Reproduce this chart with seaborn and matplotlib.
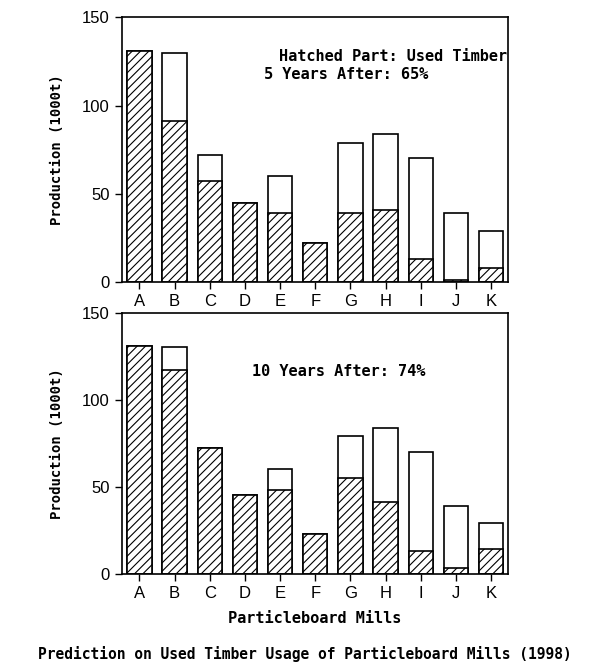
import numpy as np
import pandas as pd
import seaborn as sns
import matplotlib
matplotlib.use("Agg")
import matplotlib.pyplot as plt

# Datos (1000 t)
mills = ["A", "B", "C", "D", "E", "F", "G", "H", "I", "J", "K"]
total = [131, 130, 72, 45, 60, 22, 79, 84, 70, 39, 29]
used_5y = [131, 91, 57, 45, 39, 22, 39, 41, 13, 1, 8]
total_10 = [131, 130, 72, 45, 60, 23, 79, 84, 70, 39, 29]
used_10y = [131, 117, 72, 45, 48, 23, 55, 41, 13, 3, 14]
y_ticks = [0, 50, 100, 150]

sns.set_style("ticks")
plt.rcParams["hatch.linewidth"] = 0.8
plt.rcParams["text.color"] = "black"
plt.rcParams["axes.labelcolor"] = "black"
mono = "DejaVu Sans Mono"
sans = "Liberation Sans"

fig = plt.figure(figsize=(6.09, 6.71), dpi=100)
ax1 = fig.add_axes([0.200, 0.580, 0.634, 0.394])
ax2 = fig.add_axes([0.200, 0.145, 0.634, 0.389])


def draw_panel(ax, tot, used):
    df = pd.DataFrame({"mill": mills, "total": tot, "used": used})
    sns.barplot(data=df, x="mill", y="total", color="white", saturation=1,
                edgecolor="black", linewidth=1.2, width=0.69, ax=ax, errorbar=None)
    sns.barplot(data=df, x="mill", y="used", color="white", saturation=1,
                edgecolor="black", linewidth=1.2, width=0.69, hatch="////",
                ax=ax, errorbar=None)
    ax.set_xlim(-0.5, 10.48)
    ax.set_ylim(0, 150)
    ax.set_yticks(y_ticks)
    for s in ax.spines.values():
        s.set_visible(True)
        s.set_linewidth(1.2)
        s.set_color("black")
    ax.tick_params(direction="out", length=5, width=1.0, colors="black",
                   labelsize=12)
    ax.tick_params(axis="x", pad=4)
    for lab in ax.get_xticklabels() + ax.get_yticklabels():
        lab.set_fontfamily(sans)
    ax.set_xlabel("")
    ax.set_ylabel("Production (1000t)", fontfamily=mono, fontweight="bold",
                  fontsize=10, labelpad=13, color="black")


draw_panel(ax1, total, used_5y)
draw_panel(ax2, total_10, used_10y)

ax1.text(0.997, 0.852, "Hatched Part: Used Timber", transform=ax1.transAxes,
         ha="right", va="center", fontfamily=mono, fontweight="bold", fontsize=11)
ax1.text(0.368, 0.784, "5 Years After: 65%", transform=ax1.transAxes,
         ha="left", va="center", fontfamily=mono, fontweight="bold", fontsize=11)
ax2.text(0.337, 0.774, "10 Years After: 74%", transform=ax2.transAxes,
         ha="left", va="center", fontfamily=mono, fontweight="bold", fontsize=11)

ax2.set_xlabel("Particleboard Mills", fontfamily=mono, fontweight="bold",
               fontsize=11, labelpad=7, color="black")
fig.text(0.50, 0.014, "Prediction on Used Timber Usage of Particleboard Mills (1998)",
         ha="center", va="bottom", fontfamily=mono, fontweight="bold", fontsize=10.5)

fig.savefig("out.png", dpi=100, facecolor="white")
